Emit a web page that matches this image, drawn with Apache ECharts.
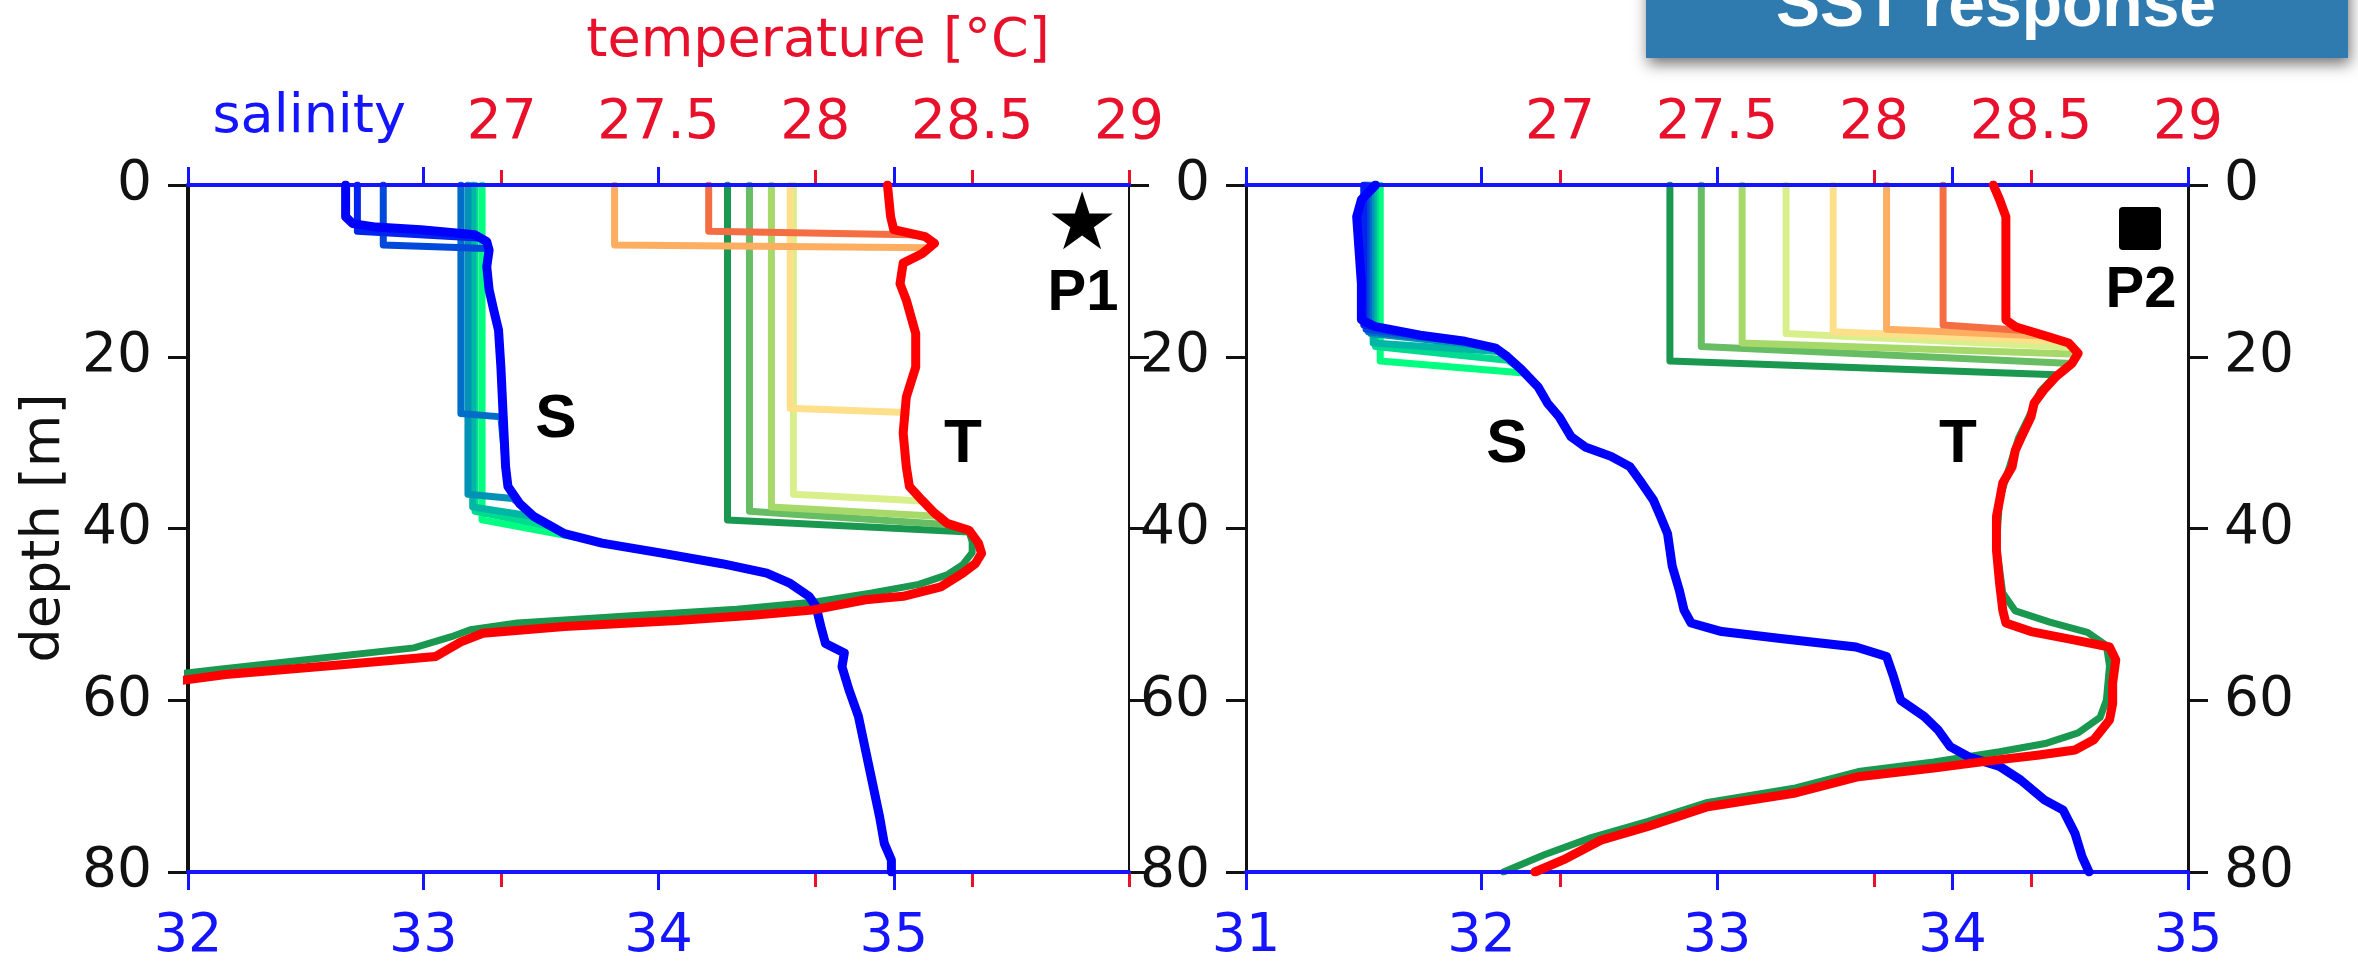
<!DOCTYPE html>
<html>
<head>
<meta charset="utf-8">
<script src="https://cdn.jsdelivr.net/npm/echarts@6/dist/echarts.min.js"></script>
<style>
html,body{margin:0;padding:0;background:#fff;}
#c{width:2358px;height:967px;}
</style>
</head>
<body>
<div id="c"></div>
<script>
// ---------- data ----------
const depthTicks = [0, 20, 40, 60, 80];
const tempTicks = [27, 27.5, 28, 28.5, 29];
const p1SalTicks = [32, 33, 34, 35];
const p2SalTicks = [31, 32, 33, 34, 35];

// P1 base (final) profiles  [value, depth]
const p1TempBase = [[28.23,0],[28.24,3.7],[28.25,5.2],[28.35,6.0],[28.38,6.8],[28.34,8.0],[28.28,9.1],[28.27,11.5],[28.29,13.4],[28.32,17.3],[28.32,21.2],[28.29,24.7],[28.28,28.9],[28.29,32.8],[28.30,35.1],[28.34,36.7],[28.38,38.2],[28.42,39.4],[28.49,40.2],[28.52,41.7],[28.53,42.9],[28.51,44.1],[28.47,45.2],[28.40,46.8],[28.28,47.9],[28.16,48.3],[27.99,49.5],[27.80,50.1],[27.56,50.7],[27.20,51.4],[26.94,52.2],[26.87,53.2],[26.79,54.9],[26.48,55.9],[26.12,57.0],[25.98,57.7]];
const p1SalBase = [[32.67,0],[32.67,3.7],[32.70,4.5],[32.80,4.9],[32.99,5.2],[33.22,5.8],[33.27,6.6],[33.28,7.6],[33.27,9.5],[33.28,12.2],[33.30,14.6],[33.32,16.9],[33.33,21.2],[33.34,27.0],[33.35,32.8],[33.36,35.1],[33.41,37.1],[33.47,38.6],[33.60,40.6],[33.76,41.7],[34.02,42.9],[34.27,44.1],[34.46,45.2],[34.56,46.4],[34.64,47.9],[34.67,49.1],[34.69,51.4],[34.71,53.4],[34.79,54.5],[34.78,56.1],[34.81,58.8],[34.85,61.9],[34.88,65.8],[34.91,69.7],[34.94,73.6],[34.96,76.7],[34.99,78.6],[34.99,80]];
// deepest-mixing (dark green) temperature profile below its mixed layer
const p1DeepGreenT = [[28.49,40.4],[28.50,41.5],[28.50,42.8],[28.47,44.2],[28.42,45.4],[28.33,46.5],[28.18,47.5],[27.99,48.6],[27.75,49.4],[27.40,50.2],[27.05,51.0],[26.90,51.8],[26.84,52.6],[26.72,53.9],[26.42,55.1],[26.10,56.4],[25.98,56.9]];

// P1 mixed-layer profiles (shallowest MLD first)
const p1MixT = [27.66, 27.36, 27.92, 27.93, 27.86, 27.79, 27.72];
const p1MixTDepth = [5.4, 7.0, 26.0, 36.0, 37.5, 38.0, 39.0];
const p1JoinT = [[28.30,5.8],[28.36,7.3],[28.29,26.5],[28.34,36.8],[28.40,38.6],[28.44,39.6],[28.49,40.4]];
const p1MixS = [32.72, 32.83, 33.16, 33.19, 33.21, 33.22, 33.25];
const p1MixSDepth = [5.4, 7.0, 26.6, 36.0, 37.5, 38.0, 39.0];
const p1JoinS = [[33.25,6.2],[33.27,7.4],[33.33,27.0],[33.38,36.5],[33.47,38.6],[33.55,39.8],[33.70,41.3]];

// P2 base (final) profiles
const p2TempBase = [[28.38,0],[28.40,1.7],[28.42,3.7],[28.42,7.6],[28.42,11.5],[28.42,15.7],[28.45,16.5],[28.54,17.5],[28.62,18.4],[28.65,19.6],[28.63,20.8],[28.58,22.3],[28.54,23.9],[28.51,25.4],[28.50,27.0],[28.47,29.3],[28.45,30.9],[28.44,32.8],[28.41,34.7],[28.40,36.7],[28.39,38.6],[28.39,42.5],[28.40,46.4],[28.41,49.5],[28.42,51.0],[28.50,52.0],[28.64,53.0],[28.75,53.8],[28.77,55.3],[28.76,58.0],[28.76,60.4],[28.75,62.3],[28.70,64.6],[28.64,65.8],[28.52,66.4],[28.38,67.0],[28.19,67.9],[27.95,68.9],[27.75,70.8],[27.47,72.4],[27.28,74.7],[27.13,76.3],[27.01,78.6],[26.92,80.0]];
const p2SalBase = [[31.55,0],[31.49,1.7],[31.47,3.7],[31.48,7.6],[31.49,11.5],[31.49,15.7],[31.55,16.5],[31.74,17.5],[31.93,18.2],[32.06,19.0],[32.11,20.0],[32.17,21.5],[32.24,23.5],[32.28,25.4],[32.33,27.0],[32.38,29.3],[32.44,30.5],[32.55,31.6],[32.63,32.8],[32.68,34.7],[32.73,36.7],[32.76,38.6],[32.79,40.6],[32.81,44.4],[32.84,47.2],[32.86,49.5],[32.89,51.0],[33.02,52.0],[33.27,52.8],[33.59,53.8],[33.72,54.9],[33.75,57.3],[33.78,60.0],[33.88,61.9],[33.94,63.5],[33.99,65.4],[34.07,66.6],[34.20,67.7],[34.29,69.3],[34.39,71.6],[34.47,72.8],[34.52,75.5],[34.55,78.2],[34.58,80.0]];
// deepest-mixing (dark green) temperature profile below its mixed layer
const p2DeepGreenT = [[28.58,22.1],[28.53,24.0],[28.50,26.5],[28.46,29.5],[28.43,33.0],[28.40,36.5],[28.39,42.0],[28.41,47.5],[28.45,49.6],[28.56,50.9],[28.68,52.1],[28.74,53.6],[28.75,56.0],[28.74,60.0],[28.72,62.0],[28.65,63.8],[28.55,65.0],[28.40,66.0],[28.19,67.2],[27.95,68.3],[27.75,70.2],[27.47,71.9],[27.28,74.1],[27.10,76.0],[26.95,78.0],[26.82,80.0]];

// P2 mixed-layer profiles (shallowest MLD first)
const p2MixT = [28.22, 28.04, 27.87, 27.72, 27.58, 27.45, 27.35];
const p2MixDepth = [16.3, 16.8, 17.1, 17.3, 18.4, 18.8, 20.5];
const p2JoinT = [[28.50,17.0],[28.56,17.6],[28.60,18.2],[28.63,18.9],[28.65,19.7],[28.63,20.8],[28.58,22.1]];
const p2MixS = [31.50, 31.51, 31.52, 31.53, 31.54, 31.55, 31.57];
const p2JoinS = [[31.62,16.9],[31.74,17.5],[31.88,18.1],[31.97,18.6],[32.07,19.4],[32.11,20.4],[32.18,21.9]];

// ---------- styles ----------
const tempColors = ['#f46d43','#fdae61','#fee08b','#d9ef8b','#a6d96a','#66bd63','#1a9850'];
const salColors  = ['#0024ed','#0049da','#006dc8','#0092b6','#00b6a4','#00db92','#00ff80'];
const BLUE = '#1414ff', RED = '#e8102a', LINE_RED = '#ff0000', LINE_BLUE = '#0000ff';
const FONT = '"DejaVu Sans", sans-serif';

function profile(mix, mld, join, base) {
  const pts = [[mix, 0], [mix, mld], join];
  base.forEach(p => { if (p[1] > join[1]) pts.push(p); });
  return pts;
}
const series = [];
function addSeries(data, xi, yi, color, width, z) {
  series.push({
    type: 'line', xAxisIndex: xi, yAxisIndex: yi, data: data,
    showSymbol: false, symbol: 'none', animation: false, z: z, clip: true,
    lineStyle: { color: color, width: width, cap: 'round', join: 'round' }
  });
}
const last = p1MixT.length - 1;
// panel 1: xAxis 0 salinity, 2 temperature ; yAxis 0
// panel 2: xAxis 4 salinity, 6 temperature ; yAxis 2
for (let i = last; i >= 0; i--) {
  addSeries(profile(p1MixS[i], p1MixSDepth[i], p1JoinS[i], p1SalBase), 0, 0, salColors[i], 7, 3);
  addSeries(profile(p1MixT[i], p1MixTDepth[i], p1JoinT[i], i === last ? p1DeepGreenT : p1TempBase), 2, 0, tempColors[i], 7, 3);
  addSeries(profile(p2MixS[i], p2MixDepth[i], p2JoinS[i], p2SalBase), 4, 2, salColors[i], 7, 3);
  addSeries(profile(p2MixT[i], p2MixDepth[i], p2JoinT[i], i === last ? p2DeepGreenT : p2TempBase), 6, 2, tempColors[i], 7, 3);
}
addSeries(p1SalBase, 0, 0, LINE_BLUE, 9, 5);
addSeries(p1TempBase, 2, 0, LINE_RED, 9, 5);
addSeries(p2SalBase, 4, 2, LINE_BLUE, 9, 5);
addSeries(p2TempBase, 6, 2, LINE_RED, 9, 5);

function salAxes(grid, min, max, ticks, labelTicks) {
  return [
    { gridIndex: grid, type: 'value', position: 'bottom', min: min, max: max,
      axisLine: { show: true, onZero: false, lineStyle: { color: BLUE, width: 4 } },
      axisTick: { show: true, inside: false, length: 18, customValues: ticks, lineStyle: { color: BLUE, width: 3 } },
      axisLabel: { show: true, customValues: labelTicks, color: BLUE, fontSize: 54, fontFamily: FONT, margin: 38 },
      splitLine: { show: false }, z: 4 },
    { gridIndex: grid, type: 'value', position: 'top', min: min, max: max,
      axisLine: { show: true, onZero: false, lineStyle: { color: BLUE, width: 4 } },
      axisTick: { show: true, inside: false, length: 18, customValues: ticks, lineStyle: { color: BLUE, width: 3 } },
      axisLabel: { show: false }, splitLine: { show: false }, z: 4 }
  ];
}
function tempAxes(grid) {
  return [
    { gridIndex: grid, type: 'value', position: 'top', min: 26, max: 29,
      axisLine: { show: false, onZero: false },
      axisTick: { show: true, inside: false, length: 15, customValues: tempTicks, lineStyle: { color: RED, width: 3 } },
      axisLabel: { show: true, customValues: tempTicks, color: RED, fontSize: 55, fontFamily: FONT, margin: 34 },
      splitLine: { show: false }, z: 3 },
    { gridIndex: grid, type: 'value', position: 'bottom', min: 26, max: 29,
      axisLine: { show: false, onZero: false },
      axisTick: { show: true, inside: false, length: 15, customValues: tempTicks, lineStyle: { color: RED, width: 3 } },
      axisLabel: { show: false }, splitLine: { show: false }, z: 3 }
  ];
}
function depthAxis(grid, pos, showLabel, width) {
  return { gridIndex: grid, type: 'value', position: pos, inverse: true, min: 0, max: 80, interval: 20,
    axisLine: { show: true, onZero: false, lineStyle: { color: '#111', width: width } },
    axisTick: { show: true, inside: false, length: 20, lineStyle: { color: '#111', width: 3 } },
    axisLabel: { show: showLabel, color: '#111', fontSize: 55, fontFamily: FONT, margin: 36,
      customValues: depthTicks },
    splitLine: { show: false }, z: 2 };
}

const xAxis = [].concat(
  salAxes(0, 32, 36, p1SalTicks, p1SalTicks), tempAxes(0),
  salAxes(1, 31, 35, p2SalTicks, p2SalTicks), tempAxes(1)
);
const yAxis = [
  depthAxis(0, 'left', true, 4), depthAxis(0, 'right', false, 2),
  depthAxis(1, 'left', true, 3), depthAxis(1, 'right', true, 3)
];

function txt(text, x, y, font, fill, align, extra) {
  return Object.assign({ type: 'text', x: x, y: y, z: 50,
    style: { text: text, font: font, fill: fill, align: align || 'center', verticalAlign: 'middle' } }, extra || {});
}
const BOLD = 'bold 62px "Liberation Sans", Arial, sans-serif';
const graphic = [
  { type: 'rect', shape: { x: 1646, y: -30, width: 702, height: 88 }, z: 40,
    style: { fill: '#2f7bb0', shadowBlur: 14, shadowOffsetX: 2, shadowOffsetY: 6, shadowColor: 'rgba(0,0,0,0.55)' } },
  txt('SST response', 1996, 8, 'bold 66px "Liberation Sans", Arial, sans-serif', '#ffffff', 'center'),
  txt('temperature [°C]', 818, 42, '54px ' + FONT, RED, 'center'),
  txt('salinity', 406, 118, '54px ' + FONT, BLUE, 'right'),
  txt('depth [m]', 45, 528, '54px ' + FONT, '#111', 'center', { rotation: Math.PI / 2 }),
  txt('S', 556, 420, BOLD, '#000', 'center'),
  txt('T', 963, 445, BOLD, '#000', 'center'),
  txt('S', 1507, 445, BOLD, '#000', 'center'),
  txt('T', 1958, 445, BOLD, '#000', 'center'),
  txt('★', 1082, 228, '80px ' + FONT, '#000', 'center'),
  txt('P1', 1083, 294, 'bold 58px "Liberation Sans", Arial, sans-serif', '#000', 'center'),
  { type: 'rect', shape: { x: 2119, y: 207, width: 42, height: 43, r: 4 }, z: 50, style: { fill: '#000' } },
  txt('P2', 2141, 291, 'bold 58px "Liberation Sans", Arial, sans-serif', '#000', 'center')
];

const chart = echarts.init(document.getElementById('c'), null, { renderer: 'canvas' });
chart.setOption({
  animation: false,
  backgroundColor: '#ffffff',
  textStyle: { fontFamily: FONT },
  grid: [
    { left: 188, top: 185, width: 941, height: 687, containLabel: false },
    { left: 1246, top: 185, width: 942, height: 687, containLabel: false }
  ],
  xAxis: xAxis,
  yAxis: yAxis,
  series: series,
  graphic: graphic
});
</script>
</body>
</html>
